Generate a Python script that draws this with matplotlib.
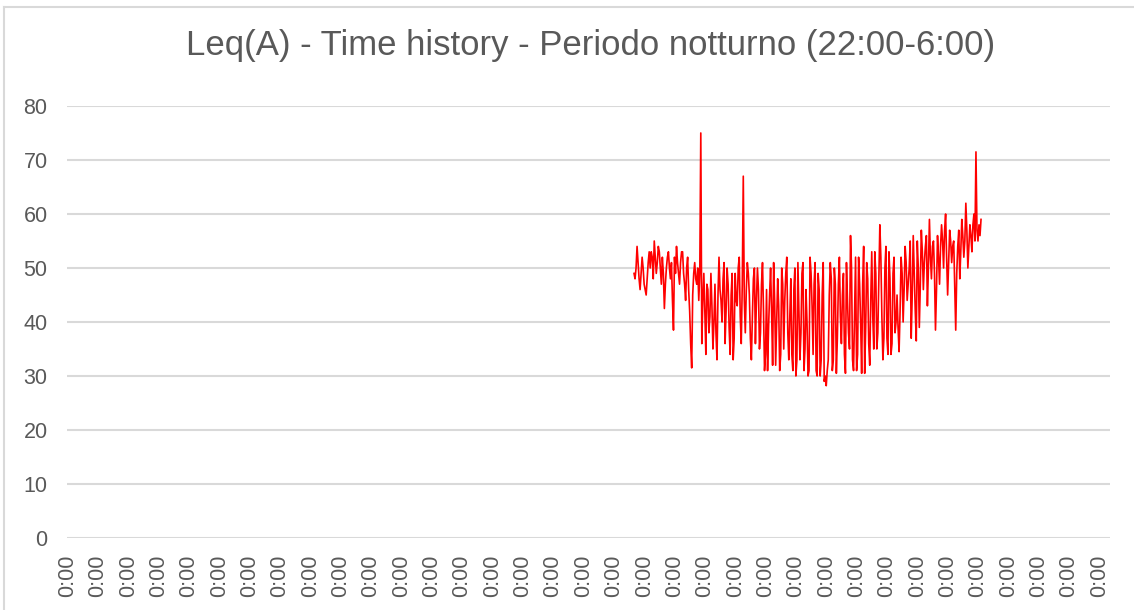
import matplotlib
matplotlib.use("Agg")
import matplotlib.pyplot as plt
from matplotlib.lines import Line2D
import numpy as np

# Leq(A) readings, one value per sample
leq = [
    49, 48, 50, 54, 51, 48, 46, 49, 52, 50, 47, 46, 45, 48, 51, 53, 50, 53, 52, 48,
    55, 52, 49, 51, 54, 53, 50, 47, 52, 49, 42.5, 47, 50, 52, 53, 50, 48, 51, 44, 38.5,
    52, 49, 54, 51, 49, 47, 51, 53, 53, 49, 47, 44, 50, 52, 46, 42, 36, 31.5, 45, 49,
    51, 48, 47, 50, 44, 49, 75, 36, 44, 49, 42, 34, 47, 46, 38, 41, 49, 43, 35, 40,
    47, 38, 33, 45, 52, 46, 44, 40, 48, 51, 36, 42, 50, 47, 39, 34, 45, 49, 33, 37,
    49, 44, 43, 50, 52, 41, 36, 47, 67, 44, 38, 46, 51, 49, 45, 37, 33, 41, 48, 50,
    36, 44, 50, 46, 35, 38, 47, 51, 42, 31, 34, 46, 31, 39, 45, 50, 42, 32, 51, 44,
    32, 40, 48, 43, 31, 34, 50, 47, 35, 44, 49, 52, 38, 33, 41, 48, 34, 31, 46, 50,
    30, 33, 51, 42, 33, 38, 49, 51, 31, 35, 46, 40, 30, 31, 52, 49, 43, 34, 47, 51,
    31, 30, 49, 46, 30, 33, 45, 51, 29, 30, 28.2, 31, 33, 45, 51, 48, 31, 33, 50, 47,
    30.5, 37, 47, 52, 41, 36, 45, 49, 34, 30.5, 51, 44, 38, 35, 56, 50, 33, 31, 42, 52,
    31, 34, 52, 47, 40, 30.5, 47, 54, 30.5, 39, 51, 48, 36, 32, 44, 53, 41, 35, 53, 49,
    35, 38, 48, 58, 52, 41, 33, 37, 50, 54, 37, 34, 53, 48, 34, 36, 49, 52, 38, 40,
    45, 39, 34.5, 42, 52, 49, 40, 46, 54, 51, 44, 47, 50, 55, 37, 45, 56, 49, 42, 36.5,
    55, 50, 39, 47, 57, 53, 46, 51, 54, 56, 43, 50, 59, 52, 48, 54, 55, 49, 38.5, 46,
    56, 52, 47, 54, 58, 55, 50, 57, 60, 52, 45, 51, 57, 55, 51, 54, 55, 47, 38.5, 49,
    54, 57, 48, 53, 59, 56, 52, 55, 62, 57, 50, 54, 58, 56, 53, 58, 60, 55, 71.5, 57,
    55, 58, 56, 59,
]
n_categories = 1031     # total time slots on the axis
first_sample = 560      # slot of the first reading
label_step = 30         # one label every 30 slots
tick_labels = ["0:00"] * 35

title = "Leq(A) - Time history - Periodo notturno (22:00-6:00)"

plt.rcParams['font.family'] = ['Liberation Sans', 'DejaVu Sans']
grey = '#595959'

fig = plt.figure(figsize=(11.34, 6.10), dpi=100)
ax = fig.add_axes([67/1134, 72/610, 1043/1134, 432/610])

xs = first_sample + np.arange(len(leq))
ax.plot(xs, leq, color='#ff0000', lw=1.2)

ax.set_xlim(-0.5, n_categories - 0.5)
ax.set_ylim(0, 80)
ax.set_yticks(np.arange(0, 81, 10))
ax.set_xticks(np.arange(len(tick_labels)) * label_step)
ax.set_xticklabels(tick_labels, rotation=90)

ax.grid(axis='y', color='#d9d9d9', lw=1.5)
ax.set_axisbelow(True)
for s in ax.spines.values():
    s.set_visible(False)
ax.tick_params(axis='both', length=0, colors=grey, labelsize=15.5)
ax.tick_params(axis='y', pad=14)
ax.tick_params(axis='x', pad=12)

fig.text(591/1134, 1 - 45/610, title, ha='center', va='center',
         fontsize=25, color=grey)

# chart border (only left and top edges visible)
fig.add_artist(Line2D([4/1134, 4/1134], [0, 1 - 7/610], transform=fig.transFigure,
                      color='#d9d9d9', lw=1.5))
fig.add_artist(Line2D([4/1134, 1], [1 - 7/610, 1 - 7/610], transform=fig.transFigure,
                      color='#d9d9d9', lw=1.5))

fig.savefig('out.png', dpi=100)
